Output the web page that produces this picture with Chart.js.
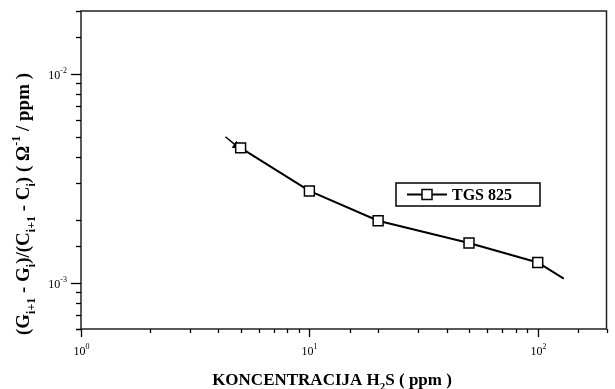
<!DOCTYPE html>
<html>
<head>
<meta charset="utf-8">
<script src="https://cdn.jsdelivr.net/npm/chart.js@4/dist/chart.umd.min.js"></script>
<style>
  html, body { margin: 0; padding: 0; background: #fff; }
  #wrap { width: 615px; height: 389px; position: relative; }
</style>
</head>
<body>
<div id="wrap"><canvas id="chart"></canvas></div>
<script>
// data
var conc = [5, 10, 20, 50, 100];
var sens = [4.42e-3, 2.75e-3, 1.98e-3, 1.55e-3, 1.25e-3];
var tailX = 130;          // line continues past last marker
var tailY = 1.045e-3;
var arrowX = [4.29, 4.78];
var arrowY = [5.0e-3, 4.53e-3];
var seriesName = "TGS 825";
var xTitle = [["KONCENTRACIJA H", "n"], ["2", "sub"], ["S ( ppm )", "n"]];
var yTitle = [
  ["(G", "n"], ["i+1", "sub"], [" - G", "n"], ["i", "sub"], [")/(C", "n"],
  ["i+1", "sub"], [" - C", "n"], ["i", "sub"], [") ( \u03A9", "n"],
  ["-1", "sup"], [" / ppm )", "n"]
];

var serif = '"Liberation Serif", "Times New Roman", serif';

var points = conc.map(function(c, i) { return { x: c, y: sens[i] }; });
points.push({ x: tailX, y: tailY });
var radii = conc.map(function() { return 7; });
radii.push(0);

function richText(ctx, segs, size, cx, cy) {
  var subSize = Math.round(size * 0.65);
  var w = 0;
  segs.forEach(function(s) {
    ctx.font = "bold " + (s[1] == "n" ? size : subSize) + "px " + serif;
    w += ctx.measureText(s[0]).width;
  });
  var x = cx - w / 2;
  ctx.textAlign = "left";
  ctx.textBaseline = "alphabetic";
  segs.forEach(function(s) {
    ctx.font = "bold " + (s[1] == "n" ? size : subSize) + "px " + serif;
    var dy = s[1] == "sub" ? size * 0.3 : (s[1] == "sup" ? -size * 0.45 : 0);
    ctx.fillText(s[0], x, cy + dy);
    x += ctx.measureText(s[0]).width;
  });
}

function powLabel(ctx, exp, x, y, align) {
  ctx.font = "12px " + serif;
  var bw = ctx.measureText("10").width;
  ctx.font = "8px " + serif;
  var ew = ctx.measureText(exp).width;
  var left = align == "right" ? x - bw - ew : x - (bw + ew) / 2;
  ctx.textAlign = "left";
  ctx.textBaseline = "alphabetic";
  ctx.font = "12px " + serif;
  ctx.fillText("10", left, y);
  ctx.font = "8px " + serif;
  ctx.fillText(exp, left + bw, y - 6);
}

function isDecade(v) {
  var l = Math.log10(v);
  return Math.abs(l - Math.round(l)) < 1e-6;
}

var decor = {
  id: "decor",
  afterDraw: function(chart) {
    var ctx = chart.ctx, a = chart.chartArea;
    var xs = chart.scales.x, ys = chart.scales.y;
    ctx.save();
    ctx.fillStyle = "#000";
    ctx.strokeStyle = "#222";
    ctx.lineWidth = 1.5;
    ctx.strokeRect(a.left, a.top, a.right - a.left, a.bottom - a.top);

    ctx.lineWidth = 1.3;
    ctx.strokeStyle = "#000";
    ys.ticks.forEach(function(t) {
      var y = Math.round(ys.getPixelForValue(t.value)) + 0.5;
      var major = isDecade(t.value);
      ctx.beginPath();
      ctx.moveTo(a.left, y);
      ctx.lineTo(a.left - (major ? 10 : 5), y);
      ctx.stroke();
      if (major) powLabel(ctx, String(Math.round(Math.log10(t.value))), a.left - 14, y + 4, "right");
    });
    xs.ticks.forEach(function(t) {
      var x = Math.round(xs.getPixelForValue(t.value)) + 0.5;
      var major = isDecade(t.value);
      ctx.beginPath();
      ctx.moveTo(x, a.bottom);
      ctx.lineTo(x, a.bottom + (major ? 8 : 4));
      ctx.stroke();
      if (major) powLabel(ctx, String(Math.round(Math.log10(t.value))), x, a.bottom + 26, "center");
    });

    // axis titles
    richText(ctx, xTitle, 17, 332, 385);
    ctx.save();
    ctx.translate(29, 204);
    ctx.rotate(-Math.PI / 2);
    richText(ctx, yTitle, 19, 0, 0);
    ctx.restore();

    // legend box
    var lx = 396, ly = 183, lw = 144, lh = 23;
    ctx.lineWidth = 1.5;
    ctx.strokeRect(lx, ly, lw, lh);
    var my = ly + lh / 2;
    ctx.lineWidth = 2;
    ctx.beginPath();
    ctx.moveTo(lx + 11, my);
    ctx.lineTo(lx + 51, my);
    ctx.stroke();
    ctx.fillStyle = "#fff";
    ctx.fillRect(lx + 26, my - 5, 10, 10);
    ctx.lineWidth = 1.5;
    ctx.strokeRect(lx + 26, my - 5, 10, 10);
    ctx.fillStyle = "#000";
    ctx.font = "bold 16px " + serif;
    ctx.textAlign = "left";
    ctx.textBaseline = "middle";
    ctx.fillText(chart.data.datasets[0].label, lx + 56, my + 1);
    ctx.restore();
  }
};

new Chart(document.getElementById("chart"), {
  type: "line",
  data: {
    datasets: [
      {
        label: seriesName,
        data: points,
        borderColor: "#000",
        borderWidth: 2,
        pointStyle: "rect",
        pointRadius: radii,
        pointBackgroundColor: "#fff",
        pointBorderColor: "#000",
        pointBorderWidth: 1.5,
        tension: 0,
        fill: false
      },
      {
        label: "arrow",
        data: [{ x: arrowX[0], y: arrowY[0] }, { x: arrowX[1], y: arrowY[1] }],
        borderColor: "#000",
        borderWidth: 1.5,
        pointStyle: "triangle",
        pointRotation: 125,
        pointRadius: [0, 3.5],
        pointBackgroundColor: "#000",
        pointBorderColor: "#000",
        fill: false
      }
    ]
  },
  options: {
    responsive: true,
    maintainAspectRatio: false,
    animation: false,
    layout: { padding: { top: 11, right: 2, left: 0, bottom: 0 } },
    plugins: {
      legend: { display: false },
      tooltip: { enabled: false }
    },
    scales: {
      x: {
        type: "logarithmic",
        min: 1,
        max: 200,
        grid: { display: false },
        border: { display: false },
        ticks: { display: false },
        afterFit: function(s) { s.height = 60; }
      },
      y: {
        type: "logarithmic",
        min: 6e-4,
        max: 2e-2,
        grid: { display: false },
        border: { display: false },
        ticks: { display: false },
        afterFit: function(s) { s.width = 81; }
      }
    }
  },
  plugins: [decor]
});
</script>
</body>
</html>
